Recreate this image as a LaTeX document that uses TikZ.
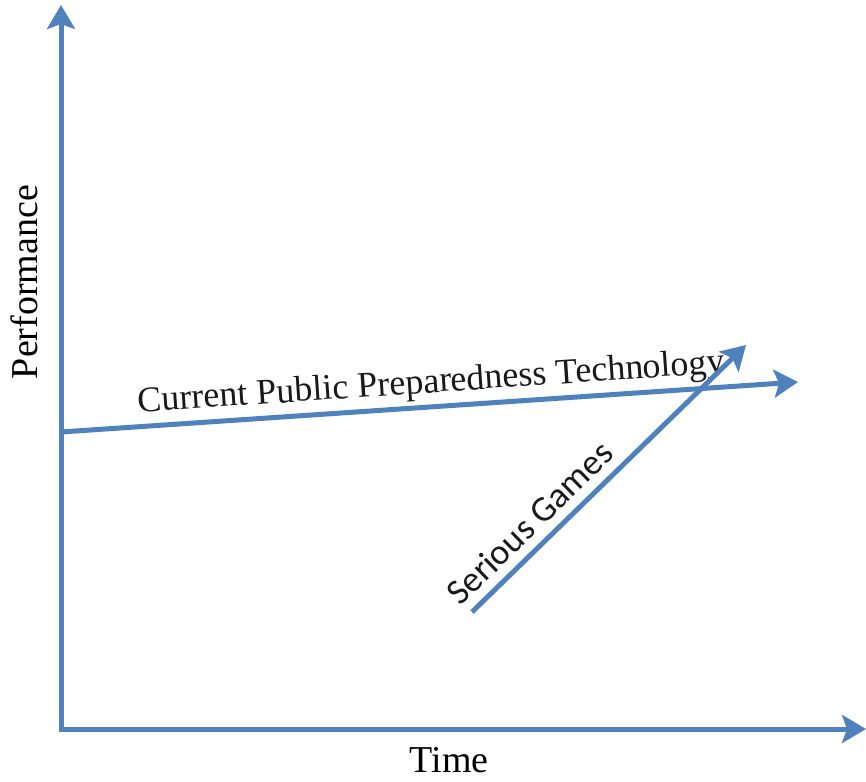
\documentclass[tikz,border=0pt]{standalone}
\usepackage{fontspec}
\setmainfont{Liberation Serif}
\newfontfamily\labelsans{Carlito}
\usetikzlibrary{arrows.meta}
\definecolor{axisblue}{RGB}{79,129,189}
\begin{document}
\begin{tikzpicture}[x=1pt,y=-1pt,
  bluearrow/.style={draw=axisblue,line width=5pt,-{Stealth[length=24pt,width=28pt,inset=5pt]}},
  axislabel/.style={font=\fontsize{38}{40}\selectfont,text=black,inner sep=0pt},
  linelabel/.style={font=\fontsize{36}{38}\selectfont,text=black!90,inner sep=0pt},
  gamelabel/.style={font=\labelsans\fontsize{36}{38}\selectfont,text=black!90,inner sep=0pt}]
\useasboundingbox (0,0) rectangle (866,781);
\coordinate (origin) at (61,729);
\coordinate (ytop) at (61,5);
\coordinate (xend) at (866,729);
\coordinate (cstart) at (61,432);
\coordinate (cend) at (798,382);
\coordinate (sstart) at (472,612);
\coordinate (send) at (746,345);
\draw[bluearrow,line cap=rect] (origin) -- (ytop);
\draw[bluearrow,line cap=rect] (origin) -- (xend);
\draw[bluearrow] (cstart) -- (cend)
  node[linelabel,pos=0.505,sloped,above=4pt] (ctext) {Current Public Preparedness Technology};
\draw[bluearrow] (sstart) -- (send)
  node[gamelabel,pos=0.27,sloped,above=9pt] (stext) {Serious Games};
\node[axislabel,rotate=90] (perf) at (24,282) {Performance};
\node[axislabel] (time) at (449,760) {Time};
\end{tikzpicture}
\end{document}
